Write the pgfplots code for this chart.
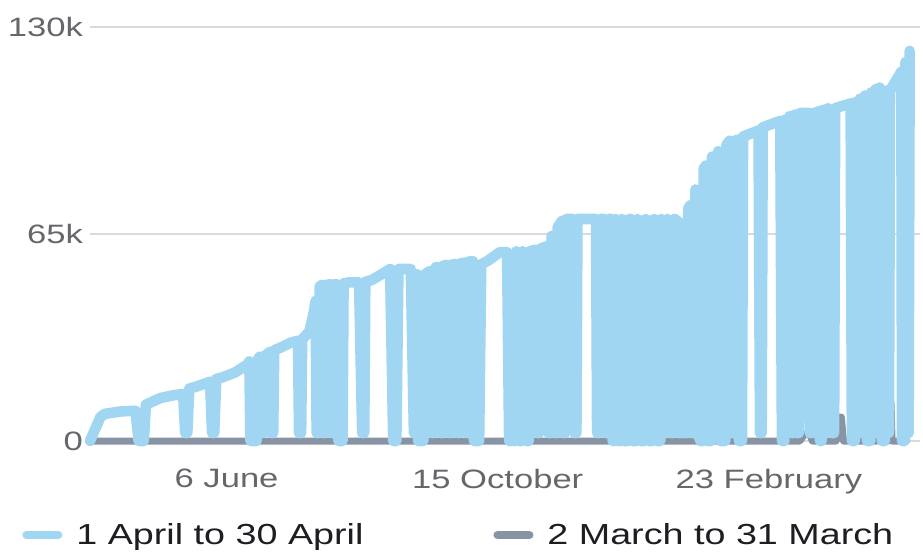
\documentclass[border=0pt]{standalone}
\usepackage{fontspec}
\setmainfont{Liberation Sans}[FakeStretch=1.3]
\usepackage{pgfplots}
\pgfplotsset{compat=1.18}
\definecolor{fbblue}{HTML}{A0D6F2}
\definecolor{fbgray}{HTML}{8893A3}
\definecolor{gridc}{HTML}{DADADA}
\definecolor{ticktext}{HTML}{65676B}
\definecolor{legtext}{HTML}{1C1E21}
\begin{document}
\begin{tikzpicture}
\path[use as bounding box] (0,0) rectangle (461.5pt,276.5pt);
\begin{axis}[
  at={(45pt,56pt)}, anchor=south west,
  scale only axis, width=415pt, height=207pt,
  xmin=0, xmax=401, ymin=0, ymax=130,
  axis line style={draw=none},
  major tick length=0pt,
  xtick={66,197,328}, xticklabels={6 June,15 October,23 February},
  ytick={0,65,130}, yticklabels={0,65k,130k},
  ymajorgrids, grid style={gridc, line width=1pt},
  tick label style={font=\fontsize{13.3}{15}\selectfont, text=ticktext},
  xticklabel style={yshift=-10.5pt},
  clip=false,
  legend columns=2,
  legend cell align=left,
  legend image code/.code={\draw[#1,line width=4pt,line cap=round] (2pt,0pt) -- (18pt,0pt);},
  legend style={draw=none, fill=none, at={(0,0)}, anchor=west, xshift=-37pt, yshift=-47pt,
    font=\fontsize{14.5}{16}\selectfont, text=legtext,
    /tikz/every odd column/.append style={column sep=5pt},
    /tikz/every even column/.append style={column sep=63pt}},
]
\addlegendimage{fbblue}
\addlegendentry{1 April to 30 April}
\addlegendimage{fbgray}
\addlegendentry{2 March to 31 March}
\addplot[forget plot, fbgray, line width=3.5pt, line cap=round, line join=round] coordinates {
(0,0) (343,0) (345,2) (347.5,2.5) (349,0) (360.5,0) (361.5,7.5) (363,7.5) (364,0)
(380,0) (380.5,13) (381.5,11) (382,0) (385.5,0) (386,12) (387,12) (387.5,0)
(394.5,0) (395,13) (396.5,13)
};
\addplot[forget plot, fbblue, line width=5.3pt, line cap=round, line join=round] coordinates {
(0,0) (5,7.5) (7,8.5) (15,9.3) (22,9.5) (23.5,0) (26,0) (27,11.4) (34,13.5) (40,14.3) (45,14.8)
(46,2.5) (47,2.5) (48,16.5) (51,17) (58,18.6) (59,2.5) (60,2.5) (61,19.5) (64,20) (70,21.5) (76,24)
(77,25) (77.5,0) (80.5,0) (81,25.5) (82,26.5) (82.5,2.5) (83.5,2.5) (84,26.5) (87,28)
(87.5,2.5) (88.5,2.5) (89,28.5) (92,29.3) (97,30.9) (100.5,31.5) (101,2.5) (102,2.5) (102.5,31.9)
(106,34.4) (108,40) (109,44) (109.5,2.5) (110.5,2.5) (111,48.5) (112,49) (112.5,2.5) (113.5,2.5)
(114,49) (116,49.2) (116.5,2.5) (117.5,2.5) (118,49.2) (119.5,49.2) (120,0) (122,0) (122.5,49.5)
(125,49.8) (130,49.8) (131.5,2.5) (132.5,2.5) (133,50) (136,50.5) (141,52.4) (145,54)
(146.5,0) (148,0) (149,54) (155,54) (156.5,2.5) (157.5,2.5) (158,52.4) (158.5,0) (161,0)
(162,52.4) (164,53.3) (165,2.5) (166,2.5) (167,54.6) (169,54.6) (169.5,2.5) (170.5,2.5)
(171,55.2) (173,55.2) (173.5,2.5) (174.5,2.5) (175,55.5) (177,55.5) (177.5,2.5) (178.5,2.5)
(179,55.8) (181.5,56) (182,2.5) (183,2.5) (183.5,56.5) (185,56.5) (185.5,0) (188,0) (189,55.5)
(192,56.5) (198,59.3) (201.5,59.3) (202.5,0) (203.5,0) (204,57.7) (204.5,0) (205.5,0) (206,59.6)
(207,0) (208.5,0) (209,59.6) (210.5,0) (212,0) (212.5,59.6) (215,60) (216,2.5) (217,2.5)
(217.5,60.3) (220,61) (221.5,2.5) (222.5,2.5) (223,64.4) (224.5,2.5) (225.5,2.5) (226,67.2)
(228,69.1) (228.5,2.5) (229.5,2.5) (230,69.7) (233.5,69.7) (234,2.5) (235,2.5) (235.5,69.7)
(244.5,69.7) (245,2.5) (246,2.5) (246.5,69.7) (248.5,69.7) (249,2.5) (250,2.5) (250.5,69.7)
(252,69.7) (252.5,0) (253.5,0) (254,69.7) (255,0) (256.5,0) (257,69.7) (258,0) (260,0)
(260.5,69.7) (261.5,69.7) (262,0) (264,0) (264.5,69.7) (266,0) (268,0) (268.5,69.7) (270,0)
(272,0) (272.5,69.7) (274,0) (275.5,0) (276,69.7) (277,2.5) (278.5,2.5) (279,69.7) (280.5,2.5)
(282,2.5) (282.5,69.7) (284,69) (284.5,2.5) (286,2.5) (286.5,68.1) (287,2.5) (288.5,2.5)
(289,72.9) (290,74) (290.5,2.5) (292,2.5) (292.5,79) (293.5,2.5) (295,0) (296,0) (296.5,85.5)
(297.5,86.5) (298,0) (300,0) (300.5,89.3) (301.5,2.5) (303,2.5) (303.5,91) (304.5,0) (307,0)
(307.5,93) (309,94.3) (309.5,2.5) (311,2.5) (311.5,94.3) (313,94.6) (313.5,0) (315,0)
(315.5,95.6) (323,97.5) (323.7,2.5) (324.5,2.5) (325,98.5) (333.5,100.5) (334.3,0) (335.5,0)
(336,101) (336.7,2.5) (337.5,2.5) (338,102) (339.1,2.5) (340,2.5) (340.5,102.5) (341.5,2.5)
(342.5,2.5) (343,103) (347.5,103) (347.8,2.5) (348.5,2.5) (349,103) (350.2,2.5) (351,2.5)
(351.5,103.5) (352.7,0) (353.5,0) (354,104) (355.1,2.5) (356,2.5) (356.5,104.5) (358.5,2.5)
(359.5,2.5) (360,104.5) (367.5,106) (368.1,0) (369.5,0) (370,106.5) (370.5,2.5) (371.5,2.5)
(372,107.5) (373,2.5) (374,2.5) (374.5,108.5) (375.4,0) (377,0) (377.5,109.5) (378,2.5)
(379,2.5) (379.5,110.5) (380.2,2.5) (381,2.5) (381.5,111) (382.6,0) (384,0) (384.5,110)
(385,2.5) (386,2.5) (386.5,110) (392,116) (392.3,0) (393.5,0) (394,119) (395,2.5) (395.5,2.5)
(396,122.5)
};
\end{axis}
\end{tikzpicture}
\end{document}
